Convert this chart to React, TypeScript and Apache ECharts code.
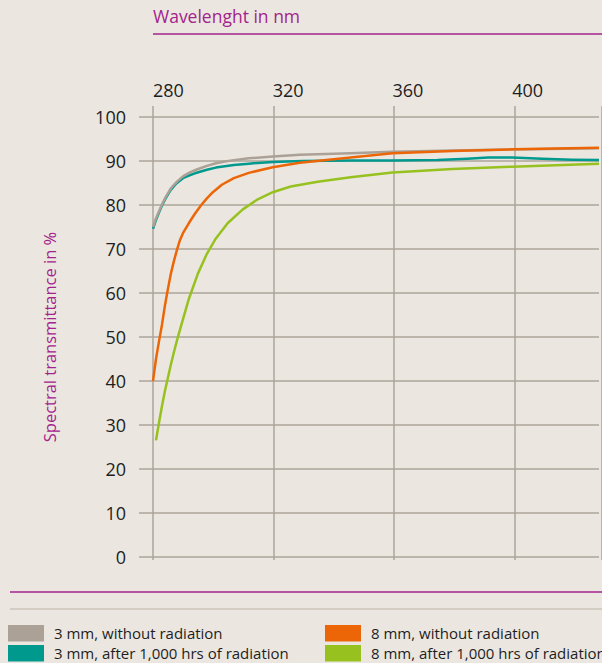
import React, { useEffect, useRef } from "react";
import * as echarts from "echarts";

const xTicks = [280, 320, 360, 400];
const yTicks = [0, 10, 20, 30, 40, 50, 60, 70, 80, 90, 100];

const seriesNames = [
  "3 mm, without radiation",
  "3 mm, after 1,000 hrs of radiation",
  "8 mm, without radiation",
  "8 mm, after 1,000 hrs of radiation",
];

const grayWl = [280, 281, 282, 283, 284, 285, 286, 287, 288, 290, 292, 294, 296, 298, 301, 304, 307, 312, 320, 329, 346, 360, 380, 400, 429];
const grayVals = [75, 77, 78.6, 80.1, 81.5, 82.7, 83.8, 84.6, 85.3, 86.5, 87.3, 87.9, 88.4, 88.9, 89.5, 89.9, 90.2, 90.6, 91.0, 91.4, 91.75, 92.1, 92.4, 92.6, 92.9];

const tealWl = [280, 281, 282, 283, 284, 285, 286, 287, 288, 290, 292, 294, 296, 298, 301, 304, 307, 312, 320, 330, 346, 360, 375, 385, 392, 400, 410, 420, 429];
const tealVals = [74.6, 76.6, 78.3, 79.9, 81.2, 82.4, 83.5, 84.3, 85.0, 86.1, 86.7, 87.2, 87.6, 88.0, 88.5, 88.8, 89.1, 89.4, 89.8, 90.0, 90.1, 90.1, 90.2, 90.5, 90.8, 90.8, 90.5, 90.3, 90.2];

const orangeWl = [280, 281, 282, 283, 284, 285, 286, 287, 288, 289, 290, 292, 294, 296, 298, 300, 303, 307, 312, 320, 329, 346, 360, 380, 400, 429];
const orangeVals = [40, 45, 49, 52.8, 57.2, 61, 64.5, 67.3, 69.8, 72, 73.6, 75.9, 78, 79.9, 81.5, 82.9, 84.6, 86.1, 87.3, 88.6, 89.6, 90.8, 91.75, 92.3, 92.65, 93.0];

const greenWl = [281, 282, 283, 284, 285, 286, 287, 288, 289, 290, 292, 295, 298, 301, 305, 310, 315, 320, 326, 335, 346, 360, 380, 400, 429];
const greenVals = [26.5, 30.5, 34.3, 37.8, 40.8, 43.8, 46.6, 49.2, 51.6, 54, 58.7, 64.4, 68.9, 72.4, 75.9, 79, 81.3, 82.9, 84.2, 85.3, 86.3, 87.4, 88.2, 88.7, 89.4];

const colors = ["#aba197", "#00998e", "#ec6608", "#97c11f"];
const purple = "#a3238c";
const gridColor = "#aca59b";
const bg = "#ebe7e0";
const font = "Open Sans";

const pairs = (xs: number[], ys: number[]) => xs.map((x, i) => [x, ys[i]]);

export default function App() {
  const ref = useRef<HTMLDivElement>(null);
  useEffect(() => {
    document.body.style.margin = "0";
    document.body.style.background = bg;
    const chart = echarts.init(ref.current!, null, { renderer: "svg" });
    const lineSeries = (idx: number, xs: number[], ys: number[], z: number) => ({
      type: "line",
      name: seriesNames[idx],
      xAxisIndex: 0,
      yAxisIndex: 0,
      data: pairs(xs, ys),
      showSymbol: false,
      smooth: false,
      z,
      lineStyle: { color: colors[idx], width: 2.5, join: "round" },
      itemStyle: { color: colors[idx] },
    });
    const legendText = { fontSize: 15, color: "#1e1e1e", fontFamily: font, padding: [0, 0, 0, 5] };
    chart.setOption({
      animation: false,
      backgroundColor: bg,
      textStyle: { fontFamily: font },
      grid: [
        { left: 153, right: 0, top: 117, bottom: 106, containLabel: false },
        { left: 153, right: 0, top: 106, bottom: 103, containLabel: false },
      ],
      xAxis: [
        {
          type: "value",
          gridIndex: 0,
          position: "top",
          min: 280,
          max: 429,
          interval: 40,
          axisLine: { show: false },
          axisTick: { show: false },
          splitLine: { show: false },
          axisLabel: {
            align: "left",
            margin: 18,
            fontSize: 18,
            color: "#1e1e1e",
            fontFamily: font,
            formatter: (v: number) => (xTicks.includes(v) ? String(v) : ""),
          },
        },
        {
          type: "value",
          gridIndex: 1,
          min: 280,
          max: 429,
          interval: 40,
          axisLine: { show: false },
          axisTick: { show: false },
          axisLabel: { show: false },
          splitLine: { show: true, lineStyle: { color: gridColor, width: 1.5 } },
        },
      ],
      yAxis: [
        {
          type: "value",
          gridIndex: 0,
          min: 0,
          max: 100,
          interval: 10,
          name: "Spectral transmittance in %",
          nameLocation: "middle",
          nameRotate: 90,
          nameGap: 95,
          nameTextStyle: { color: purple, fontSize: 16.5, fontFamily: font },
          axisLine: { show: false },
          axisTick: { show: true, length: 14, lineStyle: { color: gridColor, width: 1.5 } },
          splitLine: { show: true, lineStyle: { color: gridColor, width: 1.5 } },
          axisLabel: {
            margin: 27,
            fontSize: 18,
            color: "#1e1e1e",
            fontFamily: font,
            formatter: (v: number) => (yTicks.includes(v) ? String(v) : ""),
          },
        },
        {
          type: "value",
          gridIndex: 1,
          min: 0,
          max: 100,
          show: false,
        },
      ],
      legend: [
        {
          left: 8,
          top: 625,
          orient: "vertical",
          padding: 0,
          itemWidth: 36,
          itemHeight: 16.5,
          itemGap: 3.5,
          selectedMode: false,
          data: [
            { name: seriesNames[0], icon: "rect" },
            { name: seriesNames[1], icon: "rect" },
          ],
          textStyle: legendText,
        },
        {
          left: 325,
          top: 625,
          orient: "vertical",
          padding: 0,
          itemWidth: 36,
          itemHeight: 16.5,
          itemGap: 3.5,
          selectedMode: false,
          data: [
            { name: seriesNames[2], icon: "rect" },
            { name: seriesNames[3], icon: "rect" },
          ],
          textStyle: legendText,
        },
      ],
      graphic: [
        {
          type: "text",
          left: 153,
          top: 7,
          style: { text: "Wavelenght in nm", fill: purple, fontSize: 17.5, fontFamily: font },
        },
        {
          type: "line",
          shape: { x1: 153, y1: 34, x2: 602, y2: 34 },
          style: { stroke: purple, lineWidth: 1.5 },
        },
        {
          type: "line",
          shape: { x1: 10, y1: 592, x2: 602, y2: 592 },
          style: { stroke: purple, lineWidth: 1.5 },
        },
        {
          type: "line",
          shape: { x1: 10, y1: 609, x2: 602, y2: 609 },
          style: { stroke: "#cbc5bb", lineWidth: 1.5 },
        },
      ],
      series: [
        lineSeries(1, tealWl, tealVals, 2),
        lineSeries(0, grayWl, grayVals, 3),
        lineSeries(3, greenWl, greenVals, 4),
        lineSeries(2, orangeWl, orangeVals, 5),
      ],
    });
    return () => chart.dispose();
  }, []);
  return <div ref={ref} style={{ width: 602, height: 663 }} />;
}
